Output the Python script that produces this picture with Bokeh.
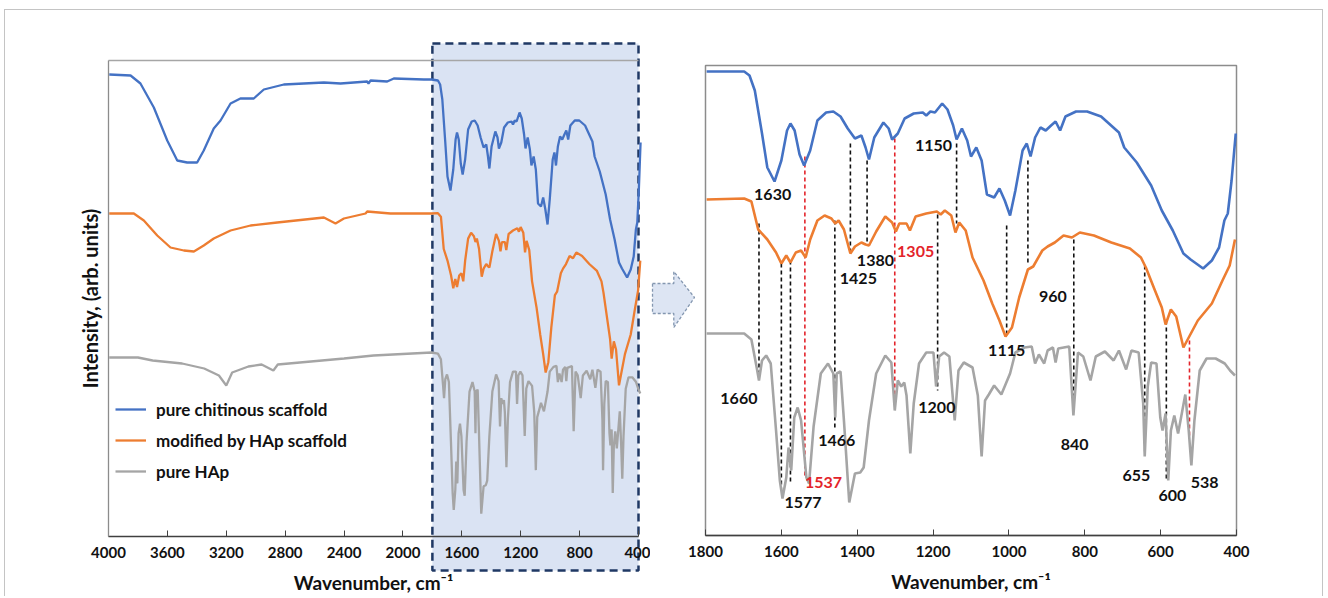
from bokeh.plotting import figure
from bokeh.models import Range1d, FixedTicker, Legend, LegendItem, ColumnDataSource
from bokeh.layouts import row
from bokeh.embed import file_html
from bokeh.resources import INLINE
from bokeh.core.properties import value

# ---------------- data (intensity in arbitrary units) ----------------
series_names = ["pure chitinous scaffold", "modified by HAp scaffold", "pure HAp"]

# full-range spectra, 4000 -> 1800 cm-1 (left panel)
wn_blue_hi = [3995, 3850, 3783, 3692, 3601, 3533, 3466, 3398, 3353, 3285, 3239, 3171, 3104, 3013,
              2945, 2809, 2537, 2424, 2243, 2234, 2220, 2107, 2062, 1858, 1805]
i_blue_hi = [526, 525, 517, 493, 460, 440, 438, 438, 450, 472, 480, 497, 502, 502,
             511, 516, 518, 517, 519, 517, 520, 519, 522, 521, 521]

wn_orange_hi = [3995, 3828, 3760, 3669, 3579, 3488, 3420, 3353, 3285, 3171, 3035, 2854, 2537, 2458,
                2401, 2254, 2243, 2085, 1805]
i_orange_hi = [387, 387, 380, 365, 353, 350, 349, 355, 362, 370, 375, 378, 383, 377,
               382, 387, 389, 387, 387]

wn_gray_hi = [3995, 3800, 3700, 3500, 3350, 3250, 3200, 3160, 3050, 2960, 2880, 2850, 2700, 2400, 2200, 1805]
i_gray_hi = [243, 243, 240, 237, 232, 225, 215, 228, 234, 236, 230, 236, 238, 242, 245, 248]

# fingerprint region 1800 -> 400 cm-1 (right panel)
wn_blue = [1797, 1698, 1684, 1670, 1651, 1637, 1618, 1600, 1585, 1576, 1565, 1552, 1540, 1524, 1505,
           1482, 1463, 1444, 1425, 1406, 1389, 1378, 1369, 1355, 1331, 1317, 1308, 1293, 1275, 1251,
           1227, 1218, 1207, 1195, 1176, 1162, 1147, 1138, 1124, 1110, 1100, 1086, 1072, 1058, 1039,
           1025, 1011, 997, 983, 964, 953, 943, 931, 917, 903, 889, 877, 865, 851, 823, 794, 757,
           710, 696, 663, 625, 597, 568, 540, 521, 488, 465, 446, 432, 423, 413, 406, 402]
i_blue = [529, 529, 525, 510, 467, 433, 419, 440, 470, 477, 470, 446, 435, 450, 480,
          488, 489, 484, 472, 462, 465, 453, 441, 463, 478, 472, 461, 467, 482, 487,
          488, 485, 489, 488, 497, 491, 475, 461, 472, 460, 444, 453, 440, 406, 403,
          412, 400, 385, 410, 450, 457, 444, 463, 473, 470, 475, 479, 470, 484, 489, 489, 484,
          468, 453, 438, 415, 390, 370, 347, 341, 332, 340, 353, 380, 387, 420, 450, 467]

wn_orange = [1797, 1698, 1679, 1661, 1637, 1614, 1600, 1587, 1576, 1562, 1548, 1536, 1524, 1505, 1486,
             1468, 1458, 1449, 1435, 1418, 1406, 1389, 1378, 1369, 1350, 1326, 1308, 1298, 1289, 1270,
             1261, 1246, 1218, 1190, 1180, 1169, 1152, 1141, 1131, 1114, 1096, 1067, 1044, 1025, 1009,
             992, 973, 950, 936, 912, 898, 879, 856, 834, 813, 776, 730, 681, 652, 639, 615, 597, 587,
             573, 559, 540, 526, 502, 465, 437, 418, 404]
i_orange = [401, 402, 399, 371, 361, 348, 337, 345, 338, 348, 350, 343, 361, 380, 385,
            382, 377, 380, 371, 347, 354, 358, 356, 355, 369, 384, 378, 369, 377, 377,
            370, 384, 387, 389, 386, 390, 385, 368, 378, 370, 343, 320, 297, 280, 264,
            273, 303, 331, 334, 350, 354, 358, 365, 363, 368, 365, 358, 352, 343, 333, 310, 293, 276,
            291, 284, 253, 263, 280, 297, 320, 335, 361]

wn_gray = [1797, 1698, 1679, 1665, 1659, 1651, 1640, 1628, 1614, 1604, 1597, 1587, 1581, 1574, 1566,
           1557, 1548, 1534, 1527, 1515, 1496, 1477, 1463, 1458, 1454, 1444, 1435, 1421, 1406, 1392,
           1383, 1369, 1350, 1326, 1310, 1301, 1293, 1284, 1276, 1270, 1260, 1251, 1237, 1218, 1199,
           1192, 1184, 1171, 1157, 1143, 1133, 1119, 1096, 1082, 1072, 1063, 1053, 1039, 1020, 997,
           983, 959, 940, 931, 921, 907, 898, 884, 877, 870, 841, 830, 818, 804, 785, 771, 747, 724,
           710, 691, 677, 658, 646, 642, 634, 625, 611, 601, 595, 587, 580, 573, 564, 554, 535, 526,
           519, 511, 497, 479, 455, 431, 417, 404]
i_gray = [267, 267, 261, 233, 220, 240, 245, 237, 170, 120, 102, 123, 153, 130, 183,
          193, 180, 123, 117, 174, 227, 237, 227, 183, 227, 229, 180, 98, 127, 128,
          133, 180, 227, 245, 238, 190, 220, 214, 218, 205, 147, 197, 237, 248, 248,
          214, 244, 248, 244, 180, 230, 238, 233, 205, 144, 200, 206, 215, 206, 227,
          248, 253, 254, 237, 246, 237, 250, 253, 238, 252, 254, 185, 248, 244, 220, 244, 249, 240,
          250, 231, 250, 248, 197, 144, 214, 238, 237, 183, 170, 187, 120, 170, 185, 167, 206, 170,
          135, 180, 230, 242, 242, 237, 230, 225]

# band markers on the right panel: position, upper and lower end, colour flag (1 = red)
mark_wn = [1659, 1600, 1576, 1538, 1459, 1418, 1374, 1301, 1188, 1138, 1006, 950, 829, 642, 585, 524]
mark_top = [377, 337, 340, 444, 380, 457, 440, 462, 386, 457, 375, 440, 361, 335, 280, 260]
mark_bot = [225, 110, 117, 123, 172, 348, 357, 198, 210, 377, 267, 335, 187, 147, 120, 165]
mark_red = [0, 0, 0, 1, 0, 0, 0, 1, 0, 0, 0, 0, 0, 0, 0, 1]

# band labels
lab_text = ["1630", "1660", "1577", "1537", "1466", "1425", "1380", "1305", "1200", "1150",
            "1115", "960", "840", "655", "600", "538"]
lab_wn = [1623, 1712, 1543, 1489, 1454, 1397, 1352, 1246, 1190, 1199, 1006, 884, 827, 664, 569, 484]
lab_i = [406, 202, 98, 118, 160, 322, 340, 349, 193, 455, 250, 304, 156, 125, 105, 118]
lab_red = [0, 0, 0, 1, 0, 0, 0, 1, 0, 0, 0, 0, 0, 0, 0, 0]

left_ticks = [4000, 3600, 3200, 2800, 2400, 2000, 1600, 1200, 800, 400]
right_ticks = [1800, 1600, 1400, 1200, 1000, 800, 600, 400]
full_region = (4000, 400)
zoom_region = (1800, 400)
right_box = (65, 535)      # intensity extent of the framed right panel
left_axis_level = 64
left_top_level = 540

# ---------------- styling ----------------
FONT = "Lato"
BLUE, ORANGE, GRAY = "#4472c4", "#ed7d31", "#a5a5a5"
RED = "#e3242b"
TXT = "#111111"
# how the fingerprint region is pasted into the overview panel: (scale, offset)
inset_x = (1.062, -41)
inset_y = {"blue": (1.0, -9), "orange": (1.155, -77), "gray": (0.947, -6)}


def overview(wn_hi, i_hi, wn_fp, i_fp, key):
    ax, bx = inset_x
    ay, by = inset_y[key]
    xs, ys = list(wn_hi), list(i_hi)
    for w, v in zip(wn_fp, i_fp):
        x = ax * w + bx
        if x < wn_hi[-1]:
            xs.append(x)
            ys.append(ay * v + by)
    return xs, ys


def style_xaxis(ax, ticks):
    ax.ticker = FixedTicker(ticks=ticks)
    ax.major_tick_in = 6
    ax.major_tick_out = 0
    ax.minor_tick_line_color = None
    ax.axis_line_color = "#404040"
    ax.axis_line_width = 1.5
    ax.major_tick_line_color = "#404040"
    ax.major_label_text_font = FONT
    ax.major_label_text_font_style = "bold"
    ax.major_label_text_font_size = "15px"
    ax.major_label_text_color = TXT
    ax.major_label_standoff = 10
    ax.axis_label = "Wavenumber, cm⁻¹"
    ax.axis_label_text_font = FONT
    ax.axis_label_text_font_style = "bold"
    ax.axis_label_text_font_size = "19px"
    ax.axis_label_text_color = TXT
    ax.axis_label_standoff = 10


Y_RANGE = (4, 560)

# ---------------- left panel ----------------
left = figure(frame_width=580, frame_height=556, min_border_left=65, min_border_right=0,
              min_border_top=30, min_border_bottom=0,
              x_range=Range1d(4258.1, 318.5), y_range=Range1d(*Y_RANGE),
              output_backend="svg", toolbar_location=None)
left.outline_line_color = None
left.grid.visible = False

left.quad(left=[zoom_region[0]], right=[zoom_region[1]], bottom=[30], top=[557],
          fill_color="#dae3f3", line_color="#1f3864", line_dash="8 5", line_width=2.5)
left.segment(x0=[full_region[0]], y0=[left_top_level], x1=[full_region[1]], y1=[left_top_level],
             line_color="#a6a6a6", line_width=1.3)

bx, by = overview(wn_blue_hi, i_blue_hi, wn_blue, i_blue, "blue")
ox, oy = overview(wn_orange_hi, i_orange_hi, wn_orange, i_orange, "orange")
gx, gy = overview(wn_gray_hi, i_gray_hi, wn_gray, i_gray, "gray")
rb = left.line(bx, by, line_color=BLUE, line_width=2.3)
ro = left.line(ox, oy, line_color=ORANGE, line_width=2.3)
rg = left.line(gx, gy, line_color=GRAY, line_width=2.3)

xa = left.xaxis[0]
style_xaxis(xa, left_ticks)
xa.fixed_location = left_axis_level
xa.bounds = (full_region[1], full_region[0])

ya = left.yaxis[0]
ya.fixed_location = full_region[0]
ya.ticker = FixedTicker(ticks=[])
ya.bounds = (left_axis_level, left_top_level)
ya.axis_line_color = "#8c8c8c"
ya.axis_line_width = 1.3
ya.major_tick_out = 0
ya.major_tick_in = 0
ya.minor_tick_line_color = None
ya.major_label_standoff = 0
ya.axis_label = "Intensity, (arb. units)"
ya.axis_label_text_font = FONT
ya.axis_label_text_font_style = "bold"
ya.axis_label_text_font_size = "20px"
ya.axis_label_text_color = TXT
ya.axis_label_standoff = 7

legend = Legend(items=[LegendItem(label=series_names[0], renderers=[rb]),
                       LegendItem(label=series_names[1], renderers=[ro]),
                       LegendItem(label=series_names[2], renderers=[rg])],
                location=(45, 114), padding=0, margin=0, spacing=9,
                glyph_width=31, glyph_height=22, label_height=22, label_standoff=10,
                label_text_font=FONT, label_text_font_style="bold", label_text_font_size="17px",
                label_text_color=TXT, border_line_color=None, background_fill_alpha=0)
left.add_layout(legend)

# ---------------- right panel ----------------
right = figure(frame_width=606, frame_height=556, min_border_left=0, min_border_right=66,
               min_border_top=30, min_border_bottom=0,
               x_range=Range1d(1945.0, 347.3), y_range=Range1d(*Y_RANGE),
               output_backend="svg", toolbar_location=None)
right.grid.visible = False
right.outline_line_color = None
right.yaxis.visible = False

# arrow pointing from the highlighted region to this panel
right.patch([1939.7, 1883.6, 1883.6, 1829.0, 1883.6, 1883.6, 1939.7],
            [317, 317, 329, 303, 273, 287, 287],
            fill_color="#dde5f3", line_color="#8497b0", line_dash="3 2", line_width=1.3)

right.quad(left=[zoom_region[0]], right=[zoom_region[1]], bottom=[right_box[0]], top=[right_box[1]],
           fill_color=None, line_color="#8c8c8c", line_width=1.5)

mk = ColumnDataSource(dict(x=mark_wn, y0=mark_top, y1=mark_bot,
                           c=[RED if r else TXT for r in mark_red]))
right.segment(x0="x", y0="y0", x1="x", y1="y1", source=mk, line_color="c",
              line_dash="4 3", line_width=1.6)

right.line(wn_blue, i_blue, line_color=BLUE, line_width=2.6)
right.line(wn_orange, i_orange, line_color=ORANGE, line_width=2.6)
right.line(wn_gray, i_gray, line_color=GRAY, line_width=2.6)

lb = ColumnDataSource(dict(x=lab_wn, y=lab_i, t=lab_text,
                           c=[RED if r else TXT for r in lab_red]))
right.text(x="x", y="y", text="t", source=lb, text_color="c", text_align="center",
           text_baseline="middle", text_font=value(FONT), text_font_style="bold",
           text_font_size="16px")

xr = right.xaxis[0]
style_xaxis(xr, right_ticks)
xr.fixed_location = right_box[0]
xr.bounds = zoom_region[::-1]

BORDER = "1px solid #c4c4c4"
layout = row(left, right, margin=(9, 0, 0, 4),
             styles={"border-top": BORDER, "border-left": BORDER, "border-right": BORDER})
open("out.html", "w").write(file_html(layout, INLINE))
